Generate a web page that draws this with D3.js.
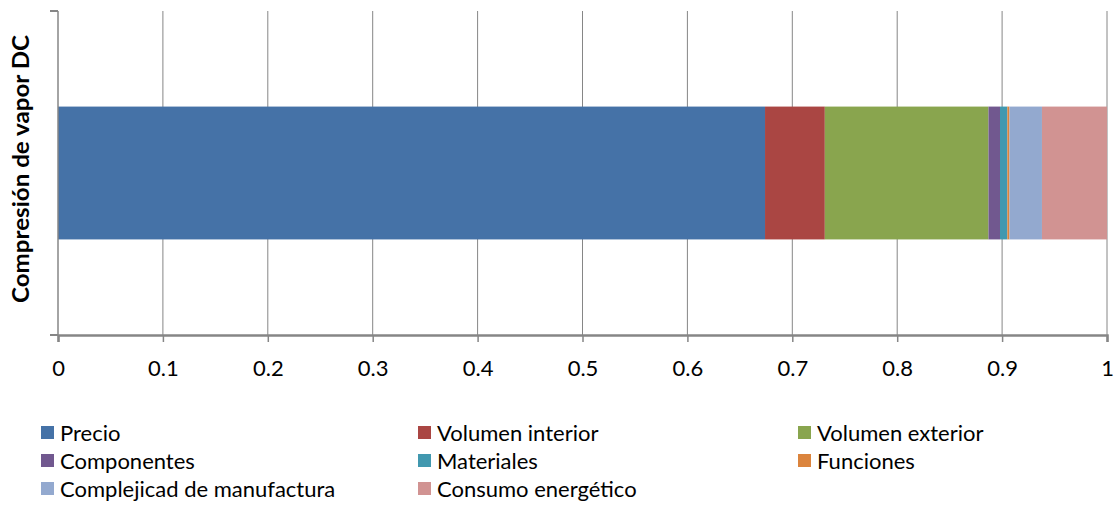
<!DOCTYPE html>
<html>
<head>
<meta charset="utf-8">
<script src="https://cdn.jsdelivr.net/npm/d3@7"></script>
<style>
  html, body { margin: 0; padding: 0; background: #fff; }
  svg { display: block; }
  text { font-family: Lato, "Open Sans", "Liberation Sans", sans-serif; fill: #000; }
</style>
</head>
<body>
<svg id="chart" width="1119" height="505"></svg>
<script>
// Stacked horizontal bar: share of each criterion for DC vapour compression
const category = "Compresión de vapor DC";
const seriesNames = [
  "Precio", "Volumen interior", "Volumen exterior", "Componentes",
  "Materiales", "Funciones", "Complejicad de manufactura", "Consumo energético"
];
const seriesValues = [0.674, 0.057, 0.156, 0.011, 0.007, 0.002, 0.031, 0.062];
const seriesColors = [
  "#4572A7", "#AA4643", "#89A54E", "#71588F",
  "#4198AF", "#DB843D", "#93A9CF", "#D19392"
];
const tickValues = [0, 0.1, 0.2, 0.3, 0.4, 0.5, 0.6, 0.7, 0.8, 0.9, 1];

const svg = d3.select("#chart");
const plot = { left: 58, right: 1107, top: 11, bottom: 335 };

const x = d3.scaleLinear().domain([0, 1]).range([plot.left, plot.right]);
const y = d3.scaleBand().domain([category]).range([plot.top, plot.bottom]).paddingInner(0.59).paddingOuter(0.295);

const gridColor = "#868686";

// vertical gridlines
svg.append("g")
  .selectAll("line")
  .data(tickValues.slice(1))
  .join("line")
  .attr("x1", d => x(d)).attr("x2", d => x(d))
  .attr("y1", plot.top).attr("y2", plot.bottom)
  .attr("stroke", gridColor).attr("stroke-width", 1);

// stacked segments
const starts = d3.cumsum([0, ...seriesValues.slice(0, -1)]);
svg.append("g")
  .selectAll("rect")
  .data(seriesValues)
  .join("rect")
  .attr("x", (d, i) => x(starts[i]))
  .attr("width", (d, i) => x(starts[i] + d) - x(starts[i]))
  .attr("y", y(category))
  .attr("height", y.bandwidth())
  .attr("fill", (d, i) => seriesColors[i]);

// category axis (left)
const yAxis = svg.append("g");
yAxis.append("line")
  .attr("x1", plot.left).attr("x2", plot.left)
  .attr("y1", plot.top).attr("y2", plot.bottom)
  .attr("stroke", gridColor).attr("stroke-width", 1.5);
yAxis.append("line")
  .attr("x1", plot.left - 8).attr("x2", plot.left)
  .attr("y1", plot.top).attr("y2", plot.top)
  .attr("stroke", gridColor).attr("stroke-width", 2);
yAxis.append("line")
  .attr("x1", plot.left - 8).attr("x2", plot.left)
  .attr("y1", plot.bottom).attr("y2", plot.bottom)
  .attr("stroke", gridColor).attr("stroke-width", 2);

// value axis (bottom)
const xAxis = d3.axisBottom(x)
  .tickValues(tickValues)
  .tickFormat(d => d3.format("")(d))
  .tickSize(7)
  .tickPadding(18);
const gx = svg.append("g")
  .attr("transform", `translate(0,${plot.bottom})`)
  .call(xAxis);
gx.select(".domain").attr("stroke", gridColor).attr("stroke-width", 2.5);
gx.selectAll(".tick line").attr("stroke", gridColor).attr("stroke-width", 1.5);
gx.selectAll(".tick text")
  .attr("font-size", 22)
  .attr("font-family", "Lato, 'Open Sans', sans-serif")
  .attr("fill", "#000");

// axis title
svg.append("text")
  .attr("transform", `translate(29,${(35 + 303) / 2}) rotate(-90)`)
  .attr("text-anchor", "middle")
  .attr("font-family", "'Liberation Sans', Arial, sans-serif")
  .attr("font-size", 22)
  .attr("font-weight", "bold")
  .attr("textLength", 268)
  .attr("lengthAdjust", "spacingAndGlyphs")
  .text(category);

// legend: three columns, filled row by row
const legendCols = [41, 418, 798];
const legendRows = [433, 461, 489];
const legend = svg.append("g")
  .selectAll("g")
  .data(seriesNames)
  .join("g")
  .attr("transform", (d, i) => `translate(${legendCols[i % 3]},${legendRows[Math.floor(i / 3)]})`);
legend.append("rect")
  .attr("x", 0).attr("y", -7)
  .attr("width", 13).attr("height", 13)
  .attr("fill", (d, i) => seriesColors[i]);
legend.append("text")
  .attr("x", 19).attr("y", 0)
  .attr("dy", "0.35em")
  .attr("font-size", 22)
  .text(d => d);
</script>
</body>
</html>
